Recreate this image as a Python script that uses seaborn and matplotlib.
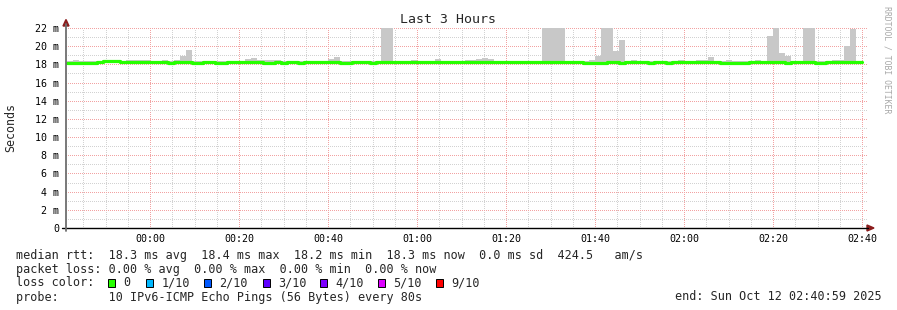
import numpy as np
import pandas as pd
import matplotlib
matplotlib.use("Agg")
import matplotlib.pyplot as plt
import seaborn as sns
from matplotlib.lines import Line2D
from matplotlib.patches import Rectangle, Polygon

# ---------------- data ----------------
title = "Last 3 Hours"
step_minutes = 80 / 60.0           # one probe round every 80 s
first_step_min = -18.67            # minutes relative to 00:00
x_tick_min = [0, 20, 40, 60, 80, 100, 120, 140, 160]
x_tick_labels = ["00:00", "00:20", "00:40", "01:00", "01:20", "01:40", "02:00", "02:20", "02:40"]
y_tick_ms = [0, 2, 4, 6, 8, 10, 12, 14, 16, 18, 20, 22]
y_tick_labels = ["0", "2 m", "4 m", "6 m", "8 m", "10 m", "12 m", "14 m", "16 m", "18 m", "20 m", "22 m"]

median_ms = [
    18.2, 18.2, 18.2, 18.2, 18.2, 18.3, 18.35, 18.35, 18.35, 18.3,   # 0-9
    18.3, 18.3, 18.3, 18.3, 18.3, 18.3, 18.3, 18.2, 18.3, 18.3,      # 10-19
    18.3, 18.2, 18.2, 18.3, 18.3, 18.2, 18.2, 18.3, 18.3, 18.3,      # 20-29
    18.3, 18.3, 18.3, 18.2, 18.2, 18.3, 18.2, 18.3, 18.3, 18.2,      # 30-39
    18.3, 18.3, 18.3, 18.3, 18.3, 18.3, 18.2, 18.2, 18.3, 18.3,      # 40-49
    18.3, 18.2, 18.3, 18.3, 18.3, 18.3, 18.3, 18.3, 18.3, 18.3,      # 50-59
    18.3, 18.3, 18.3, 18.3, 18.3, 18.3, 18.3, 18.3, 18.3, 18.3,      # 60-69
    18.3, 18.3, 18.3, 18.3, 18.3, 18.3, 18.3, 18.3, 18.3, 18.3,      # 70-79
    18.3, 18.3, 18.3, 18.3, 18.3, 18.3, 18.3, 18.2, 18.2, 18.2,      # 80-89
    18.2, 18.3, 18.3, 18.2, 18.3, 18.3, 18.3, 18.3, 18.2, 18.3,      # 90-99
    18.3, 18.2, 18.3, 18.3, 18.3, 18.3, 18.3, 18.3, 18.3, 18.3,      # 100-109
    18.2, 18.2, 18.2, 18.2, 18.2, 18.3, 18.3, 18.3, 18.3, 18.3,      # 110-119
    18.3, 18.2, 18.3, 18.3, 18.3, 18.3, 18.2, 18.2, 18.3, 18.3,      # 120-129
    18.3, 18.3, 18.3, 18.3,                                          # 130-133
]

smoke_top_ms = [
    18.35, 18.45, 18.35, 18.35, 18.35, 18.35, 18.45, 18.45, 18.45, 18.35,  # 0-9
    18.45, 18.45, 18.45, 18.45, 18.35, 18.35, 18.45, 18.35, 18.45, 18.95,  # 10-19
    19.6, 18.35, 18.35, 18.35, 18.35, 18.35, 18.35, 18.35, 18.35, 18.35,   # 20-29
    18.6, 18.7, 18.5, 18.5, 18.5, 18.5, 18.35, 18.35, 18.35, 18.35,        # 30-39
    18.35, 18.35, 18.35, 18.35, 18.55, 18.85, 18.35, 18.35, 18.35, 18.35,  # 40-49
    18.35, 18.35, 18.35, 22.5, 22.5, 18.35, 18.35, 18.35, 18.5, 18.35,     # 50-59
    18.35, 18.35, 18.55, 18.35, 18.35, 18.35, 18.35, 18.45, 18.45, 18.6,   # 60-69
    18.65, 18.55, 18.35, 18.35, 18.35, 18.35, 18.35, 18.35, 18.35, 18.35,  # 70-79
    22.5, 22.5, 22.5, 22.5, 18.35, 18.35, 18.35, 18.35, 18.5, 18.9,        # 80-89
    22.5, 22.5, 19.5, 20.7, 18.35, 18.5, 18.35, 18.35, 18.35, 18.35,       # 90-99
    18.35, 18.35, 18.35, 18.5, 18.35, 18.35, 18.5, 18.5, 18.8, 18.35,      # 100-109
    18.35, 18.5, 18.35, 18.35, 18.35, 18.35, 18.45, 18.35, 21.1, 22.5,     # 110-119
    19.3, 18.9, 18.35, 18.35, 22.5, 22.5, 18.35, 18.35, 18.35, 18.45,      # 120-129
    18.45, 20.0, 21.9, 18.4,                                               # 130-133
]
smoke_bottom_ms = 18.15

legend_rows = [
    "median rtt:  18.3 ms avg  18.4 ms max  18.2 ms min  18.3 ms now  0.0 ms sd  424.5   am/s",
    "packet loss: 0.00 % avg  0.00 % max  0.00 % min  0.00 % now",
    "loss color:",
    "probe:       10 IPv6-ICMP Echo Pings (56 Bytes) every 80s",
]
loss_labels = ["0", "1/10", "2/10", "3/10", "4/10", "5/10", "9/10"]
loss_colors = ["#26ff00", "#00b8ff", "#0059ff", "#5e00ff", "#7e00ff", "#dd00ff", "#ff0000"]
end_text = "end: Sun Oct 12 02:40:59 2025"
credit_text = "RRDTOOL / TOBI OETIKER"

# ---------------- build table ----------------
n = len(median_ms)
t = first_step_min + step_minutes * np.arange(n + 1)
df = pd.DataFrame({
    "minute": t,
    "median": list(median_ms) + [median_ms[-1]],
    "smoke_top": list(smoke_top_ms) + [smoke_top_ms[-1]],
})

# ---------------- figure ----------------
sns.set_style("white")
plt.rcParams["font.family"] = ["DejaVu Sans Mono", "DejaVu Sans"]
plt.rcParams["lines.scale_dashes"] = False
W, H = 897, 310
fig = plt.figure(figsize=(W / 100, H / 100), dpi=100)
fig.patch.set_facecolor("white")


def fx(x):
    return x / W


def fy(y):
    return 1 - y / H


ax_left, ax_right, ax_top, ax_bot = 65.5, 866.5, 28, 228
ax = fig.add_axes([fx(ax_left), fy(ax_bot), (ax_right - ax_left) / W, (ax_bot - ax_top) / H])
ax.set_facecolor("white")
ax.set_xlim(first_step_min - 0.33, 161)
ax.set_ylim(0, 22)

# smoke
ax.fill_between(df["minute"], smoke_bottom_ms, df["smoke_top"], step="post",
                color="#c8c8c8", linewidth=0, zorder=2)
# median line
sns.lineplot(data=df, x="minute", y="median", drawstyle="steps-post",
             color="#26ff00", linewidth=2.3, estimator=None, ax=ax, zorder=3)

# grid
ax.set_xticks(x_tick_min)
ax.set_xticklabels(x_tick_labels)
ax.set_xticks(np.arange(-15, 161, 5), minor=True)
ax.set_yticks(y_tick_ms)
ax.set_yticklabels(y_tick_labels)
ax.set_yticks(np.arange(1, 22, 2), minor=True)
ax.set_axisbelow(True)
dot = (0, (0.5, 0.94))
ax.grid(which="minor", color="#d2d2d2", linestyle=dot, linewidth=0.72, antialiased=False, zorder=0)
ax.grid(which="major", color="#f2a2a2", linestyle=dot, linewidth=0.72, antialiased=False, zorder=1)
for s in ax.spines.values():
    s.set_visible(False)
ax.tick_params(axis="both", which="major", length=2.2, width=0.8, color="#e07070",
               labelsize=7.2, pad=2.2, labelcolor="black")
ax.tick_params(axis="both", which="minor", length=2.2, width=0.8, color="#b8b8b8")
ax.set_xlabel("")
ax.set_ylabel("")

# axis lines + arrows
fig.add_artist(Line2D([fx(62), fx(868)], [fy(ax_bot), fy(ax_bot)], color="black", lw=1.0))
fig.add_artist(Line2D([fx(66), fx(66)], [fy(231), fy(24)], color="#6e6e6e", lw=1.3))
arrow_c = "#8b1c1c"
fig.add_artist(Polygon([[fx(867), fy(225)], [fx(874), fy(228)], [fx(867), fy(231)]],
                       closed=True, color=arrow_c, transform=fig.transFigure))
fig.add_artist(Polygon([[fx(63), fy(26)], [fx(66), fy(19.5)], [fx(69), fy(26)]],
                       closed=True, color=arrow_c, transform=fig.transFigure))

# texts
fig.text(fx(448), fy(19.5), title, ha="center", va="center", fontsize=9.5)
fig.text(fx(11), fy(127), "Seconds", rotation=90, ha="center", va="center", fontsize=8.4)
fig.text(fx(886.5), fy(60), credit_text, rotation=270, ha="center", va="center",
         fontsize=5.9, color="#a8a8a8")

fs = 8.45
baselines = [258.5, 272.5, 286.5, 300.5]
for row, yb in zip(legend_rows, baselines):
    fig.text(fx(16), fy(yb), row, ha="left", va="baseline", fontsize=fs)

square_x = [108, 146, 204, 263, 320, 378, 436]
for xs, lab, col in zip(square_x, loss_labels, loss_colors):
    fig.add_artist(Rectangle((fx(xs), fy(286.5)), 7 / W, 8 / H, facecolor=col,
                             edgecolor="black", linewidth=0.7, transform=fig.transFigure))
    fig.text(fx(xs + 15.5), fy(baselines[2]), lab, ha="left", va="baseline", fontsize=fs)

fig.text(fx(882), fy(baselines[3]), end_text, ha="right", va="baseline", fontsize=fs)

fig.savefig("out.png", dpi=100, facecolor="white")
